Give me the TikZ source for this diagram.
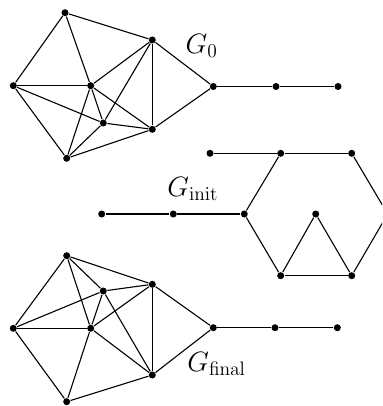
\documentclass[tikz,border=0pt]{standalone}
\usepackage{amsmath}
\usepackage{amssymb}
\tikzset{
  vtx/.style={circle,fill=black,inner sep=0pt,minimum size=7pt},
  lbl/.style={anchor=base west,inner sep=0pt,scale=1.35,font=\fontsize{20}{24}\selectfont}
}
\begin{document}
\begin{tikzpicture}[x=1pt,y=-1pt,line width=1.1pt]
  \clip (0,0) rectangle (382,406);
  % G_0
  \node[vtx] (a0) at (65,12.7) {};
  \node[vtx] (b0) at (13.3,85.7) {};
  \node[vtx] (c0) at (90.7,85.7) {};
  \node[vtx] (d0) at (152.3,40) {};
  \node[vtx] (e0) at (103.3,123) {};
  \node[vtx] (f0) at (152.3,129.3) {};
  \node[vtx] (g0) at (66.7,158.3) {};
  \node[vtx] (h0) at (213.3,86.5) {};
  \node[vtx] (p0) at (276,86.5) {};
  \node[vtx] (q0) at (338,86.5) {};
  \foreach \u/\v in {a0/b0,a0/c0,a0/d0,b0/c0,b0/e0,b0/g0,c0/d0,c0/e0,c0/f0,c0/g0,
                     d0/e0,d0/f0,d0/h0,e0/f0,e0/g0,f0/g0,f0/h0,h0/p0,p0/q0}
    \draw (\u) -- (\v);
  \node[lbl] (l0) at (185,53.3) {$G_0$};
  % G_init
  \node[vtx] (s1) at (101.7,214) {};
  \node[vtx] (t1) at (173.3,214) {};
  \node[vtx] (w1) at (244.3,214) {};
  \node[vtx] (x1) at (280.7,153.3) {};
  \node[vtx] (y1) at (351.7,153.3) {};
  \coordinate (z1) at (387.7,214);
  \node[vtx] (m1) at (351.7,275.7) {};
  \node[vtx] (n1) at (280.7,275.7) {};
  \node[vtx] (k1) at (315.7,214) {};
  \node[vtx] (r1) at (210,153.3) {};
  \foreach \u/\v in {s1/t1,t1/w1,w1/x1,x1/y1,y1/z1,z1/m1,m1/n1,n1/w1,
                     n1/k1,k1/m1,r1/x1}
    \draw (\u) -- (\v);
  \node[lbl] (l1) at (166.7,196.7) {$G_{\mathrm{init}}$};
  % G_final
  \node[vtx] (a2) at (66.7,255.7) {};
  \node[vtx] (b2) at (13.3,328.3) {};
  \node[vtx] (c2) at (90.7,328.3) {};
  \node[vtx] (d2) at (152.3,284.3) {};
  \node[vtx] (e2) at (103.3,291) {};
  \node[vtx] (f2) at (152.3,375) {};
  \node[vtx] (g2) at (66.7,401.7) {};
  \node[vtx] (h2) at (213.3,327.7) {};
  \node[vtx] (p2) at (275,327.7) {};
  \node[vtx] (q2) at (337.3,327.7) {};
  \foreach \u/\v in {a2/b2,a2/c2,a2/e2,a2/d2,b2/e2,b2/c2,b2/g2,c2/e2,c2/d2,c2/f2,
                     c2/g2,e2/d2,e2/f2,d2/f2,d2/h2,f2/h2,f2/g2,h2/p2,p2/q2}
    \draw (\u) -- (\v);
  \node[lbl] (l2) at (186.7,371.7) {$G_{\mathrm{final}}$};
\end{tikzpicture}
\end{document}
